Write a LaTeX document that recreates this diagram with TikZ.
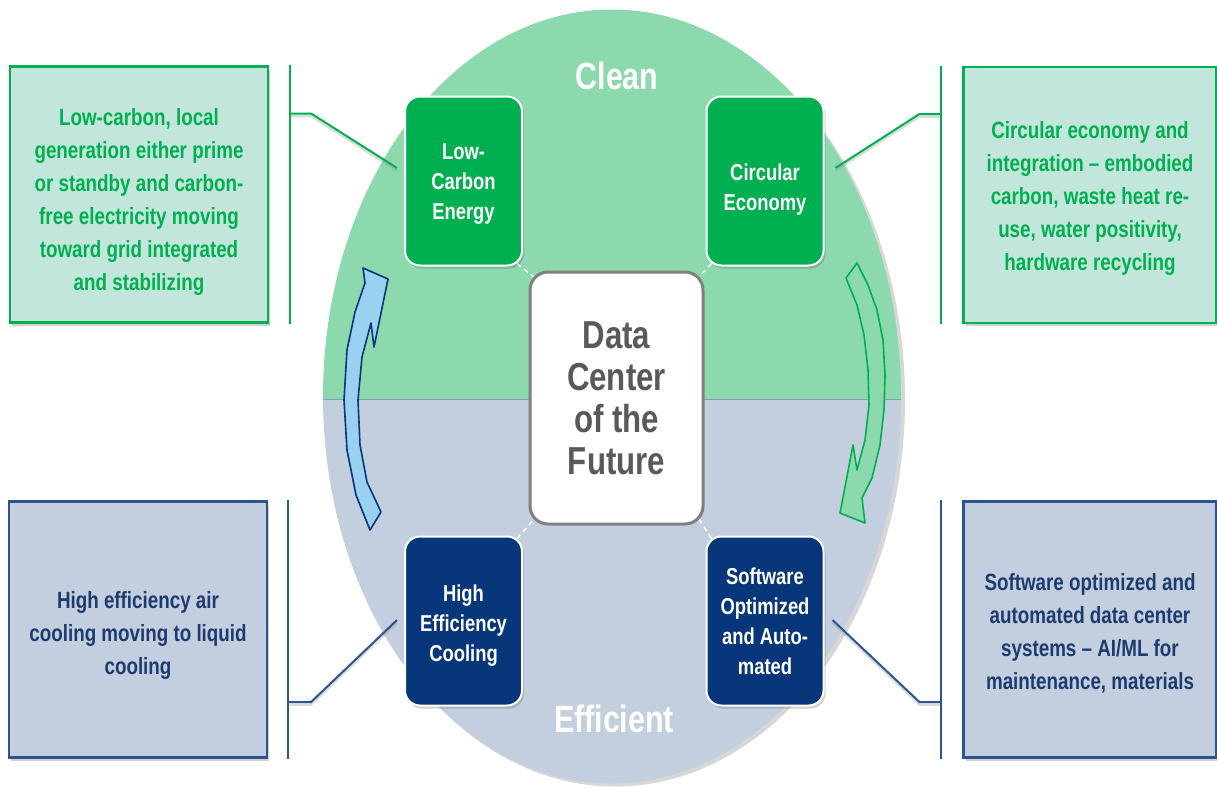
\documentclass[tikz,border=0pt]{standalone}
\usepackage{fontspec}
\setmainfont{Liberation Sans}[FakeStretch=0.8]
\usetikzlibrary{calc,shadows}

\definecolor{cgreen}{HTML}{00B050}
\definecolor{ctop}{HTML}{8CD9AE}
\definecolor{cbot}{HTML}{C3CEDE}
\definecolor{cnavy}{HTML}{08367A}
\definecolor{cmint}{HTML}{C2E6DC}
\definecolor{cnavytext}{HTML}{1E3B6F}
\definecolor{chub}{HTML}{595959}
\definecolor{cblue}{HTML}{9BD1F0}
\definecolor{csplit}{HTML}{8A9BB8}

\pgfdeclarelayer{disc}
\pgfdeclarelayer{links}
\pgfsetlayers{disc,links,main}

\begin{document}
\begin{tikzpicture}[x=1pt,y=-1pt,
  softshadow/.style={drop shadow={shadow xshift=2pt,shadow yshift=-3pt,opacity=0.3,fill=black!60}},
  hub/.style={draw=black!50, line width=3pt, fill=white, rounded corners=18pt,
    minimum width=173pt, minimum height=252pt, inner sep=0pt, text=chub,
    font=\fontsize{39}{42}\selectfont\bfseries, align=center},
  pillar/.style={draw=white, line width=2pt, rounded corners=15pt,
    minimum width=117pt, minimum height=169pt, inner sep=0pt, text=white,
    font=\fontsize{23}{30}\selectfont\bfseries, align=center, softshadow},
  pillarG/.style={pillar, fill=cgreen},
  pillarN/.style={pillar, fill=cnavy},
  note/.style={line width=2.2pt, minimum width=258pt, minimum height=256pt,
    inner sep=0pt, font=\fontsize{23.5}{33}\selectfont\bfseries, align=center, softshadow},
  noteG/.style={note, draw=cgreen, fill=cmint, text=cgreen},
  noteN/.style={note, draw=cnavy!85, fill=cbot, text=cnavytext},
  half/.style={font=\fontsize{38}{40}\selectfont\bfseries, text=white},
  link/.style={white, line width=1.5pt, dash pattern=on 5pt off 4pt},
  leadG/.style={cgreen, line width=2pt},
  leadN/.style={cnavy!85, line width=2pt},
  leadshade/.style={black!40, opacity=0.35, line width=2.5pt},
  cycleB/.style={fill=cblue, draw=cnavy, line width=1.6pt, line join=round},
  cycleG/.style={fill=ctop, draw=cgreen, line width=1.6pt, line join=round}
]
\useasboundingbox (0,0) rectangle (1217,787);

% the two-tone disc
\begin{pgfonlayer}{disc}
\fill[black!45, opacity=0.35] (615,399.5) ellipse [x radius=290, y radius=387];
\begin{scope}
  \clip (0,0) rectangle (1217,399);
  \fill[ctop] (612,396.5) ellipse [x radius=289, y radius=387];
\end{scope}
\begin{scope}
  \clip (0,399) rectangle (1217,787);
  \fill[cbot] (612,396.5) ellipse [x radius=289, y radius=387];
\end{scope}
\begin{scope}
  \clip (612,396.5) ellipse [x radius=289, y radius=387];
  \draw[csplit, line width=1pt] (300,399) -- (930,399);
\end{scope}
\end{pgfonlayer}

% centre hub and the four pillars
\node[hub] (dc) at (616.5,398) {Data\\Center\\of the\\Future};
\node[pillarG] (lc) at (463.5,181) {\rule{0pt}{21pt}Low-\\Carbon\\Energy};
\node[pillarG] (ce) at (765,181) {\rule{0pt}{33pt}Circular\\Economy};
\node[pillarN] (he) at (463.5,621) {\rule{0pt}{25pt}High\\Efficiency\\Cooling};
\node[pillarN] (so) at (765,621) {Software\\Optimized\\and Auto-\\mated};

% dashed ties between the pillars and the hub
\begin{pgfonlayer}{links}
\draw[link] ($(lc.south east)+(-6,-3)$) -- ($(dc.north west)+(6,7)$);
\draw[link] ($(ce.south west)+(6,-3)$) -- ($(dc.north east)+(-6,7)$);
\draw[link] ($(he.north east)+(-6,3)$) -- ($(dc.south west)+(6,-7)$);
\draw[link] ($(so.north west)+(6,3)$) -- ($(dc.south east)+(-6,-7)$);
\end{pgfonlayer}

% cycle arrows
\draw[cycleB] (363,268) -- (388,279) -- (374,347) -- (371,323) -- (362,357)
  -- (358,400) -- (360,445) -- (367,482) -- (381,512) -- (370,530)
  -- (356,495) -- (347,450) -- (344,400) -- (347,350) -- (355,312)
  -- (365,283) -- cycle;
\draw[cycleG] (857,263) -- (868,285) -- (877,310) -- (883,340) -- (885,375)
  -- (884,410) -- (880,445) -- (872,478) -- (862,498) -- (865,523)
  -- (840,513) -- (853,445) -- (857,470) -- (865,440) -- (869,405)
  -- (868,370) -- (864,335) -- (857,305) -- (846,278) -- cycle;

% half labels
\node[half] (clean) at (617,76) {Clean};
\node[half] (eff) at (614,719) {Efficient};

% description boxes
\node[noteG] (t1) at (139,194.5) {\rule{0pt}{31pt}Low-carbon, local\\generation either prime\\or standby and carbon-\\free electricity moving\\toward grid integrated\\and stabilizing};
\node[noteG, minimum width=253pt] (t2) at (1090,195) {\rule{0pt}{23pt}Circular economy and\\integration -- embodied\\carbon, waste heat re-\\use, water positivity,\\hardware recycling};
\node[noteN] (t3) at (138,629.5) {\rule{0pt}{29pt}High efficiency air\\cooling moving to liquid\\cooling};
\node[noteN, minimum width=253pt] (t4) at (1090,629.5) {\rule{0pt}{25pt}Software optimized and\\automated data center\\systems -- AI/ML for\\maintenance, materials};

% brackets and leader lines
\coordinate (b1) at ($(t1.east)+(21,-81)$);
\coordinate (b2) at ($(t2.west)+(-21,-81)$);
\coordinate (b3) at ($(t3.east)+(20,72.5)$);
\coordinate (b4) at ($(t4.west)+(-21,72.5)$);
\coordinate (e1) at ($(lc.west)+(-7,-13)$);
\coordinate (e2) at ($(ce.east)+(11,-13)$);
\coordinate (e3) at ($(he.west)+(-7,-1)$);
\coordinate (e4) at ($(so.east)+(8,-1)$);

\draw[leadshade] ($(b1)+(0,2.5)$) -- ++(21,0) -- ($(e1)+(0,2.5)$);
\draw[leadshade] ($(b2)+(0,2.5)$) -- ++(-22,0) -- ($(e2)+(0,2.5)$);
\draw[leadshade] ($(b3)+(0,2.5)$) -- ++(23,0) -- ($(e3)+(0,2.5)$);
\draw[leadshade] ($(b4)+(0,2.5)$) -- ++(-22,0) -- ($(e4)+(0,2.5)$);

\draw[leadG] ($(t1.north east)+(21,0)$) -- ($(t1.south east)+(21,0)$);
\draw[leadG] ($(t2.north west)+(-21,0)$) -- ($(t2.south west)+(-21,0)$);
\draw[leadN] ($(t3.north east)+(20,0)$) -- ($(t3.south east)+(20,0)$);
\draw[leadN] ($(t4.north west)+(-21,0)$) -- ($(t4.south west)+(-21,0)$);

\draw[leadG] (b1) -- ++(21,0) -- (e1);
\draw[leadG] (b2) -- ++(-22,0) -- (e2);
\draw[leadN] (b3) -- ++(23,0) -- (e3);
\draw[leadN] (b4) -- ++(-22,0) -- (e4);
\end{tikzpicture}
\end{document}
